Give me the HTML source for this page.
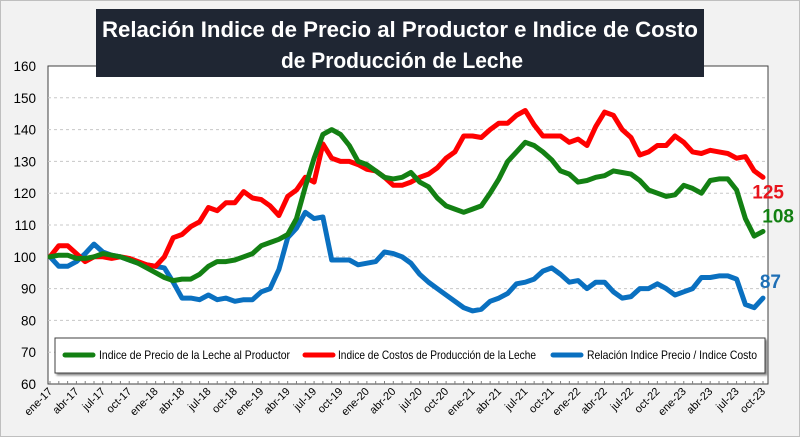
<!DOCTYPE html>
<html><head><meta charset="utf-8"><style>
html,body{margin:0;padding:0;background:#f2f2f2;}
svg{display:block;font-family:"Liberation Sans",Arial,sans-serif;}
</style></head><body>
<svg id="chart" width="800" height="437" viewBox="0 0 800 437" xmlns="http://www.w3.org/2000/svg">
<rect x="0.5" y="0.5" width="799" height="436" fill="#f2f2f2" stroke="#bfbfbf"/>
<rect x="48" y="66" width="720" height="318" fill="#fff" stroke="#404040" stroke-width="1"/>
<g id="grid"></g>
<g id="yticks"></g>
<g id="xticks"></g>
<g id="series"></g>
<g>
<rect x="96" y="9" width="608" height="68" fill="#1f2633"/>
<text x="102" y="37" font-size="22" font-weight="bold" fill="#fff" textLength="596" lengthAdjust="spacingAndGlyphs">Relación Indice de Precio al Productor e Indice de Costo</text>
<text x="281" y="68" font-size="22" font-weight="bold" fill="#fff" textLength="242" lengthAdjust="spacingAndGlyphs">de Producción de Leche</text>
</g>
<g>
<rect x="55" y="338" width="710" height="35" fill="#fff" stroke="#404040" style="filter:drop-shadow(2px 2px 1px #888)"/>
<line x1="65" y1="355" x2="93" y2="355" stroke="#138013" stroke-width="5" stroke-linecap="round"/>
<text x="99" y="359" font-size="12" fill="#000" textLength="191" lengthAdjust="spacingAndGlyphs">Indice de Precio de la Leche al Productor</text>
<line x1="305" y1="355" x2="333" y2="355" stroke="#ff0000" stroke-width="5" stroke-linecap="round"/>
<text x="338" y="359" font-size="12" fill="#000" textLength="198" lengthAdjust="spacingAndGlyphs">Indice de Costos de Producción de la Leche</text>
<line x1="553" y1="355" x2="581" y2="355" stroke="#0a70c0" stroke-width="5" stroke-linecap="round"/>
<text x="587" y="359" font-size="12" fill="#000" textLength="170" lengthAdjust="spacingAndGlyphs">Relación Indice Precio / Indice Costo</text>
</g>
<g id="labels"></g>
</svg>
<script>
const months = ["ene","feb","mar","abr","may","jun","jul","ago","sep","oct","nov","dic"];
const yTicks = [60,70,80,90,100,110,120,130,140,150,160];
const precio = [100,100.5,100.5,99.5,99.5,100,101,100.5,100,99,98,96.5,
95,93.5,92.5,93,93,94.5,97,98.5,98.5,99,100,101,
103.5,104.5,105.5,107,112,122,131,138.5,140,138.5,135,130,
129,127,125,124.5,125,126.5,123.5,122,118.5,116,115,114,
115,116,120,124.5,130,133,136,135,133,130.5,127,126,
123.5,124,125,125.5,127,126.5,126,124,121,120,119,119.5,
122.5,121.5,120,124,124.5,124.5,121,112,106.5,108];
const costo = [100,103.5,103.5,101,98.5,100,100,99.5,100,99.5,98.5,97.5,
97,100,106,107,109.5,111,115.5,114.5,117,117,120.5,118.5,
118,116,113,119,121,125,123.5,135.5,131,130,130,129,
127.5,127,125,122.5,122.5,123.5,125,126,128,131,133,138,
138,137.5,140,142,142,144.5,146,141.5,138,138,138,136,
137,135,141,145.5,144.5,140,137.5,132,133,135,135,138,
136,133,132.5,133.5,133,132.5,131,131.5,127,125];
const relacion = [100,97,97,98.5,101,104,101.5,100.5,100,99,98,97.5,
97,96.5,92,87,87,86.5,88,86.5,87,86,86.5,86.5,
89,90,96,106,109,114,112,112.5,99,99,99,97.5,
98,98.5,101.5,101,100,98,94.5,92,90,88,86,84,
83,83.5,86,87,88.5,91.5,92,93,95.5,96.5,94.5,92,
92.5,90,92,92,89,87,87.5,90,90,91.5,90,88,
89,90,93.5,93.5,94,94,93,85,84,87];
const NS="http://www.w3.org/2000/svg";
const X0=50, X1=763, Y0=384, Y1=66, VMIN=60, VMAX=160;
const n = precio.length;
function xs(i){return X0+(X1-X0)*i/(n-1);}
function ys(v){return Y0-(v-VMIN)/(VMAX-VMIN)*(Y0-Y1);}
function mk(tag,attrs,parent){const e=document.createElementNS(NS,tag);for(const k in attrs)e.setAttribute(k,attrs[k]);parent.appendChild(e);return e;}
const grid=document.getElementById('grid'), yt=document.getElementById('yticks'), xt=document.getElementById('xticks'), ser=document.getElementById('series'), lab=document.getElementById('labels');
yTicks.forEach(v=>{
  if(v>VMIN && v<VMAX){const l=mk('line',{x1:48,x2:768,y1:ys(v),y2:ys(v),stroke:'#c8c8c8','stroke-dasharray':'3,3'},grid);
  
  }
  const t=mk('text',{x:36,y:ys(v)+5,'text-anchor':'end','font-size':'13.5',fill:'#000'},yt);
  t.textContent=v;
  
  
});
for(let i=0;i<n;i++){
  const x=xs(i);
  const tk=mk('line',{x1:x,x2:x,y1:384,y2:381,stroke:'#808080'},xt);
  
  
  if(i%3===0){
    const yr=17+Math.floor(i/12);
    const t=mk('text',{x:x+3,y:392,'text-anchor':'end','font-size':'11',fill:'#000',transform:'rotate(-45 '+(x+3)+' 392)'},xt);
    t.textContent=months[i%12]+'-'+yr;
    
    
  }
}
function line(data,color,name){
  const p=data.map((v,i)=>(i?'L':'M')+xs(i).toFixed(1)+','+ys(v).toFixed(1)).join(' ');
  const e=mk('path',{d:p,fill:'none',stroke:color,'stroke-width':5,'stroke-linejoin':'round','stroke-linecap':'round'},ser);
  
  
}
line(relacion,'#0a70c0','line-relacion');
line(costo,'#ff0000','line-costo');
line(precio,'#138013','line-precio');
function endLabel(data,color,name,dx,dy){
  const v=data[data.length-1];
  const t=mk('text',{x:dx,y:ys(v)+dy,'text-anchor':'end','font-size':'19','font-weight':'bold',fill:color},lab);
  t.textContent=Math.round(v);
  
  
}
endLabel(costo,'#e8141c','end-label-costo',784,21);
endLabel(precio,'#138013','end-label-precio',794,-9);
endLabel(relacion,'#1f6fb5','end-label-relacion',781,-10);
</script>
</body></html>
